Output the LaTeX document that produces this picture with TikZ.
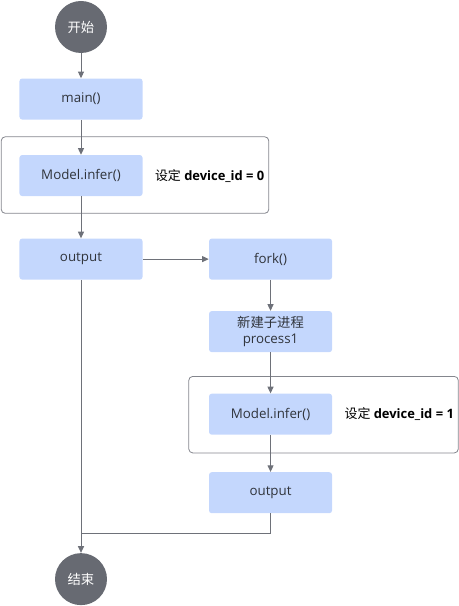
\documentclass[tikz,border=0pt]{standalone}
\usepackage{fontspec}
\setmainfont{Open Sans}
\newfontfamily\cjk{Noto Sans CJK SC}
\usepackage{xcolor}
\definecolor{cBox}{HTML}{C4D7FD}
\definecolor{cDark}{HTML}{676A72}
\definecolor{cLine}{HTML}{6E7179}
\definecolor{cText}{HTML}{30343B}
\usetikzlibrary{positioning,arrows.meta,calc}
\tikzset{
  node-box/.style={fill=cBox,rounded corners=2pt,minimum width=92.25pt,
    minimum height=30.75pt,align=center,text=cText,inner sep=2pt},
  node-term/.style={circle,fill=cDark,minimum size=39pt,text=white,inner sep=0pt},
  node-note/.style={text=black,font=\fontsize{9.7}{12}\selectfont,inner sep=0pt},
  frame/.style={draw=cLine!85,rounded corners=3pt,line width=0.6pt},
  arrow/.style={-{Triangle[length=5pt,width=4.5pt]},draw=cLine,line width=0.75pt},
  line/.style={draw=cLine,line width=0.75pt},
}
\begin{document}
\begin{tikzpicture}[node distance=18.75pt and 49.5pt]
  \useasboundingbox (-60.75pt,20.25pt) rectangle (283.5pt,-434.25pt);
  \node[node-term] (start) {\cjk 开始};
  \node[node-box,below=of start] (main) {main()};
  \node[node-box,below=26.25pt of main] (infer0) {Model.infer()};
  \node[node-note,right=9pt of infer0] (note0) {{\cjk 设定} \textbf{device\_id = 0}};
  \node[node-box,below=31.5pt of infer0] (out0) {output};
  \node[node-box,right=of out0] (fork) {fork()};
  \node[node-box,below=23.25pt of fork] (proc) {{\cjk 新建子进程}\\process1};
  \node[node-box,below=30.75pt of proc] (infer1) {Model.infer()};
  \node[node-note,right=9pt of infer1] (note1) {{\cjk 设定} \textbf{device\_id = 1}};
  \node[node-box,below=27.75pt of infer1] (out1) {output};
  \node[node-term,below=204.75pt of out0] (end) {\cjk 结束};
  \coordinate[above=14.25pt of end] (join);
  % 两个设备作用域框
  \draw[frame] ($(infer0.north west)+(-13.5pt,13.5pt)$) rectangle ($(infer0.south east)+(94.5pt,-12.75pt)$);
  \draw[frame] ($(infer1.north west)+(-15pt,12.75pt)$) rectangle ($(infer1.south east)+(94.5pt,-13.5pt)$);
  \draw[arrow] (start) -- (main);
  \draw[arrow] (main) -- (infer0);
  \draw[arrow] (infer0) -- (out0);
  \draw[arrow] (out0) -- (fork);
  \draw[arrow] (fork) -- (proc);
  \draw[arrow] (proc) -- (infer1);
  \draw[arrow] (infer1) -- (out1);
  \draw[arrow] (out0) -- (end);
  \draw[line] (out1.south) |- (join);
\end{tikzpicture}
\end{document}
